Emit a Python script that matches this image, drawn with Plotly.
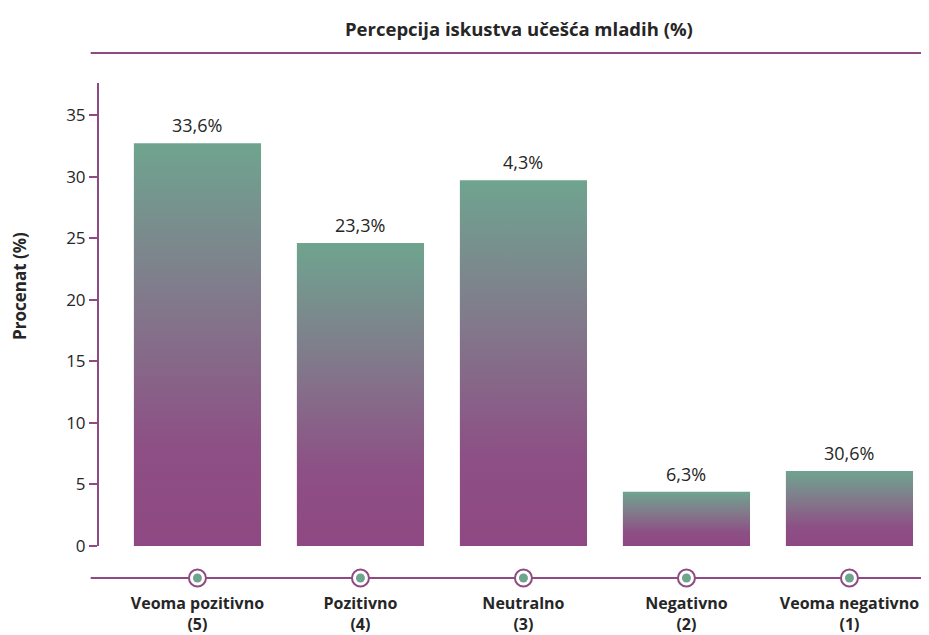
import plotly.graph_objects as go

categories = ["Veoma pozitivno<br>(5)", "Pozitivno<br>(4)", "Neutralno<br>(3)",
              "Negativno<br>(2)", "Veoma negativno<br>(1)"]
values = [32.7, 24.6, 29.7, 4.4, 6.1]
value_labels = ["33,6%", "23,3%", "4,3%", "6,3%", "30,6%"]
y_ticks = [0, 5, 10, 15, 20, 25, 30, 35]

PURPLE = "#8f4a83"
GREEN = "#6fa48f"
FONT = "Open Sans"
TXT = "#262626"

# figure geometry (page is offset by the 8px body margin)
W, H = 921, 627
TOP, BOT_MAIN, STRIP_C, PAPER_BOT = 75, 538, 570, 590
PH = PAPER_BOT - TOP
main_dom0 = (PAPER_BOT - BOT_MAIN) / PH
strip_dom1 = 2 * (PAPER_BOT - STRIP_C) / PH

fig = go.Figure()
half = 0.39
positions = list(range(len(categories)))
for i, v in zip(positions, values):
    fig.add_trace(go.Scatter(
        x=[i - half, i + half, i + half, i - half, i - half],
        y=[0, 0, v, v, 0],
        mode="lines", fill="toself",
        line=dict(width=0, color=PURPLE),
        fillgradient=dict(type="vertical",
                          colorscale=[[0, "#8f4883"], [0.25, "#8d5085"],
                                      [0.6, "#82788b"], [1, GREEN]]),
        hoverinfo="skip", showlegend=False, xaxis="x", yaxis="y",
    ))

for i, v, t in zip(positions, values, value_labels):
    fig.add_annotation(x=i, y=v, xref="x", yref="y", text=t, showarrow=False,
                       yanchor="bottom", yshift=4,
                       font=dict(family=FONT, size=18, color=TXT))

# timeline strip with markers
fig.add_shape(type="line", xref="paper", yref="y2", x0=-0.01, x1=1.01, y0=0, y1=0,
              line=dict(color=PURPLE, width=2), layer="below")
fig.add_trace(go.Scatter(
    x=positions, y=[0] * len(positions), mode="markers", xaxis="x", yaxis="y2",
    marker=dict(size=17, color="white", line=dict(color=PURPLE, width=2)),
    hoverinfo="skip", showlegend=False))
fig.add_trace(go.Scatter(
    x=positions, y=[0] * len(positions), mode="markers", xaxis="x", yaxis="y2",
    marker=dict(size=9, color=GREEN),
    hoverinfo="skip", showlegend=False))

# title line
fig.add_shape(type="line", xref="paper", yref="paper", x0=-0.01, x1=1.01,
              y0=(PAPER_BOT - 45) / PH, y1=(PAPER_BOT - 45) / PH,
              line=dict(color=PURPLE, width=2))

fig.add_annotation(text="<b>Percepcija iskustva učešća mladih (%)</b>",
                   xref="paper", yref="paper", x=0.5065, y=(PAPER_BOT - 20) / PH,
                   showarrow=False, xanchor="center", yanchor="middle",
                   font=dict(family=FONT, size=18.5, color=TXT))
fig.add_annotation(text="<b>Procenat (%)</b>", textangle=-90,
                   xref="paper", yref="paper", x=(11 - 91) / 830,
                   y=(PAPER_BOT - 278) / PH, showarrow=False,
                   xanchor="center", yanchor="middle",
                   font=dict(family=FONT, size=17, color=TXT))

fig.update_layout(
    width=W, height=H, autosize=False,
    margin=dict(l=91, r=0, t=TOP, b=H - PAPER_BOT, autoexpand=False),
    plot_bgcolor="white", paper_bgcolor="white",
    showlegend=False,
    xaxis=dict(range=[-0.604, 4.488], tickvals=positions, ticktext=categories,
               anchor="y2", ticks="", showgrid=False, zeroline=False,
               showline=False, ticklabelstandoff=-6, automargin=False,
               tickfont=dict(family=FONT, size=16, color=TXT, weight="bold")),
    yaxis=dict(domain=[main_dom0, 1], range=[0, 37.6], tickvals=y_ticks,
               ticks="outside", ticklen=8, tickwidth=2, tickcolor=PURPLE,
               showline=True, linecolor=PURPLE, linewidth=2, showgrid=False,
               zeroline=False, anchor="x", automargin=False,
               tickfont=dict(family=FONT, size=17, color=TXT)),
    yaxis2=dict(domain=[0, strip_dom1], range=[-1, 1], visible=False,
                anchor="x", automargin=False),
)

fig.write_html("out.html")
